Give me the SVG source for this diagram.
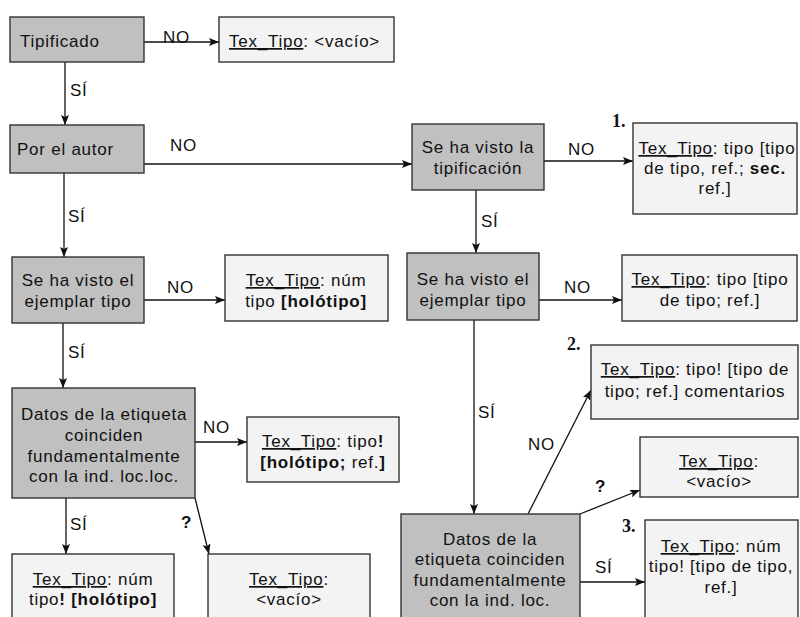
<svg xmlns="http://www.w3.org/2000/svg" width="800" height="617" viewBox="0 0 800 617">
<style>
text{font-family:"Liberation Sans",Arial,sans-serif;font-size:17px;letter-spacing:0.75px;fill:#111}
.c{text-anchor:middle}
.b{font-weight:bold}
.u{text-decoration:underline}
.num{font-family:"Liberation Serif","Times New Roman",serif;font-weight:bold;font-size:18px;letter-spacing:0}
.q{font-weight:bold;letter-spacing:0}
.dec{fill:#c0c0c0;stroke:#333;stroke-width:1.4}
.res{fill:#f3f3f3;stroke:#333;stroke-width:1.4}
.con line{stroke:#111;stroke-width:1.3;marker-end:url(#ah)}
</style>
<defs>
<marker id="ah" viewBox="0 0 10 8" refX="10" refY="4" markerWidth="10" markerHeight="8" markerUnits="userSpaceOnUse" orient="auto">
<path d="M0,0 L10,4 L0,8 L2,4 Z" fill="#111"/>
</marker>
</defs>
<rect width="800" height="617" fill="#fff"/>

<g id="connectors" class="con">
<line x1="144" y1="42" x2="219" y2="42"/>
<line x1="65" y1="62" x2="65" y2="125"/>
<line x1="144" y1="164" x2="412" y2="164"/>
<line x1="64" y1="173" x2="64" y2="257"/>
<line x1="144" y1="300" x2="225" y2="300"/>
<line x1="63" y1="323" x2="63" y2="388"/>
<line x1="195" y1="442" x2="247" y2="442"/>
<line x1="66" y1="498" x2="66" y2="554"/>
<line x1="195" y1="498" x2="209" y2="554"/>
<line x1="544" y1="161" x2="633" y2="161"/>
<line x1="476" y1="190" x2="476" y2="253"/>
<line x1="539" y1="300" x2="622" y2="300"/>
<line x1="474" y1="320" x2="474" y2="514"/>
<line x1="528" y1="514" x2="591" y2="390"/>
<line x1="580" y1="514" x2="640" y2="490"/>
<line x1="580" y1="582" x2="645" y2="582"/>
</g>

<g id="labels">
<text x="163" y="43">NO</text>
<text x="70" y="96">SÍ</text>
<text x="170" y="151">NO</text>
<text x="68" y="222">SÍ</text>
<text x="167" y="293">NO</text>
<text x="68" y="358">SÍ</text>
<text x="203" y="433">NO</text>
<text x="70" y="530">SÍ</text>
<text x="181" y="528" class="q">?</text>
<text x="568" y="155">NO</text>
<text x="612" y="127" class="num">1.</text>
<text x="481" y="227">SÍ</text>
<text x="564" y="293">NO</text>
<text x="478" y="418">SÍ</text>
<text x="528" y="450">NO</text>
<text x="567" y="350" class="num">2.</text>
<text x="595" y="492" class="q">?</text>
<text x="622" y="532" class="num">3.</text>
<text x="595" y="573">SÍ</text>
</g>

<g id="tipificado">
<rect class="dec" x="10" y="17" width="134" height="45"/>
<text x="20" y="47">Tipificado</text>
</g>
<g id="vacio-1">
<rect class="res" x="219" y="17" width="175" height="45"/>
<text x="229" y="47"><tspan class="u">Tex_Tipo</tspan>: &lt;vacío&gt;</text>
</g>
<g id="por-el-autor">
<rect class="dec" x="10" y="125" width="134" height="48"/>
<text x="17" y="155">Por el autor</text>
</g>
<g id="visto-ejemplar-izq">
<rect class="dec" x="12" y="257" width="132" height="66"/>
<text class="c" x="78" y="286">Se ha visto el</text>
<text class="c" x="78" y="307">ejemplar tipo</text>
</g>
<g id="holotipo-1">
<rect class="res" x="225" y="255" width="163" height="66"/>
<text class="c" x="306" y="286"><tspan class="u">Tex_Tipo</tspan>: núm</text>
<text class="c" x="306" y="307">tipo <tspan class="b">[holótipo]</tspan></text>
</g>
<g id="datos-izq">
<rect class="dec" x="12" y="388" width="183" height="110"/>
<text class="c" x="104" y="420">Datos de la etiqueta</text>
<text class="c" x="104" y="441">coinciden</text>
<text class="c" x="104" y="462">fundamentalmente</text>
<text class="c" x="104" y="482">con la ind. loc.loc.</text>
</g>
<g id="holotipo-ref">
<rect class="res" x="247" y="417" width="152" height="65"/>
<text class="c" x="323" y="447"><tspan class="u">Tex_Tipo</tspan>:  tipo<tspan class="b">!</tspan></text>
<text class="c" x="323" y="468"><tspan class="b">[holótipo;</tspan> ref.<tspan class="b">]</tspan></text>
</g>
<g id="holotipo-2">
<rect class="res" x="12" y="554" width="162" height="70"/>
<text class="c" x="93" y="585"><tspan class="u">Tex_Tipo</tspan>: núm</text>
<text class="c" x="93" y="605">tipo<tspan class="b">! [holótipo]</tspan></text>
</g>
<g id="vacio-2">
<rect class="res" x="208" y="554" width="162" height="70"/>
<text class="c" x="289" y="585"><tspan class="u">Tex_Tipo</tspan>:</text>
<text class="c" x="289" y="605">&lt;vacío&gt;</text>
</g>
<g id="visto-tipificacion">
<rect class="dec" x="412" y="124" width="132" height="66"/>
<text class="c" x="478" y="153">Se ha visto la</text>
<text class="c" x="478" y="174">tipificación</text>
</g>
<g id="resultado-1">
<rect class="res" x="633" y="123" width="164" height="91"/>
<text class="c" x="717" y="154"><tspan class="u">Tex_Tipo</tspan>: tipo [tipo</text>
<text class="c" x="715" y="174">de tipo, ref.; <tspan class="b">sec.</tspan></text>
<text class="c" x="715" y="194">ref.]</text>
</g>
<g id="visto-ejemplar-der">
<rect class="dec" x="407" y="253" width="132" height="67"/>
<text class="c" x="473" y="285">Se ha visto el</text>
<text class="c" x="473" y="306">ejemplar tipo</text>
</g>
<g id="tipo-de-tipo">
<rect class="res" x="622" y="255" width="175" height="66"/>
<text class="c" x="710" y="285"><tspan class="u">Tex_Tipo</tspan>: tipo [tipo</text>
<text class="c" x="710" y="306">de tipo; ref.]</text>
</g>
<g id="datos-der">
<rect class="dec" x="401" y="514" width="179" height="110"/>
<text class="c" x="490" y="545">Datos de la</text>
<text class="c" x="490" y="565">etiqueta coinciden</text>
<text class="c" x="490" y="586">fundamentalmente</text>
<text class="c" x="490" y="606">con la ind. loc.</text>
</g>
<g id="resultado-2">
<rect class="res" x="591" y="345" width="207" height="74"/>
<text class="c" x="695" y="375"><tspan class="u">Tex_Tipo</tspan>: tipo! [tipo de</text>
<text class="c" x="695" y="397">tipo; ref.] comentarios</text>
</g>
<g id="vacio-3">
<rect class="res" x="640" y="437" width="158" height="60"/>
<text class="c" x="719" y="467"><tspan class="u">Tex_Tipo</tspan>:</text>
<text class="c" x="719" y="487">&lt;vacío&gt;</text>
</g>
<g id="resultado-3">
<rect class="res" x="645" y="520" width="153" height="104"/>
<text class="c" x="721" y="552"><tspan class="u">Tex_Tipo</tspan>: núm</text>
<text class="c" x="721" y="572">tipo! [tipo de tipo,</text>
<text class="c" x="721" y="593">ref.]</text>
</g>
</svg>
